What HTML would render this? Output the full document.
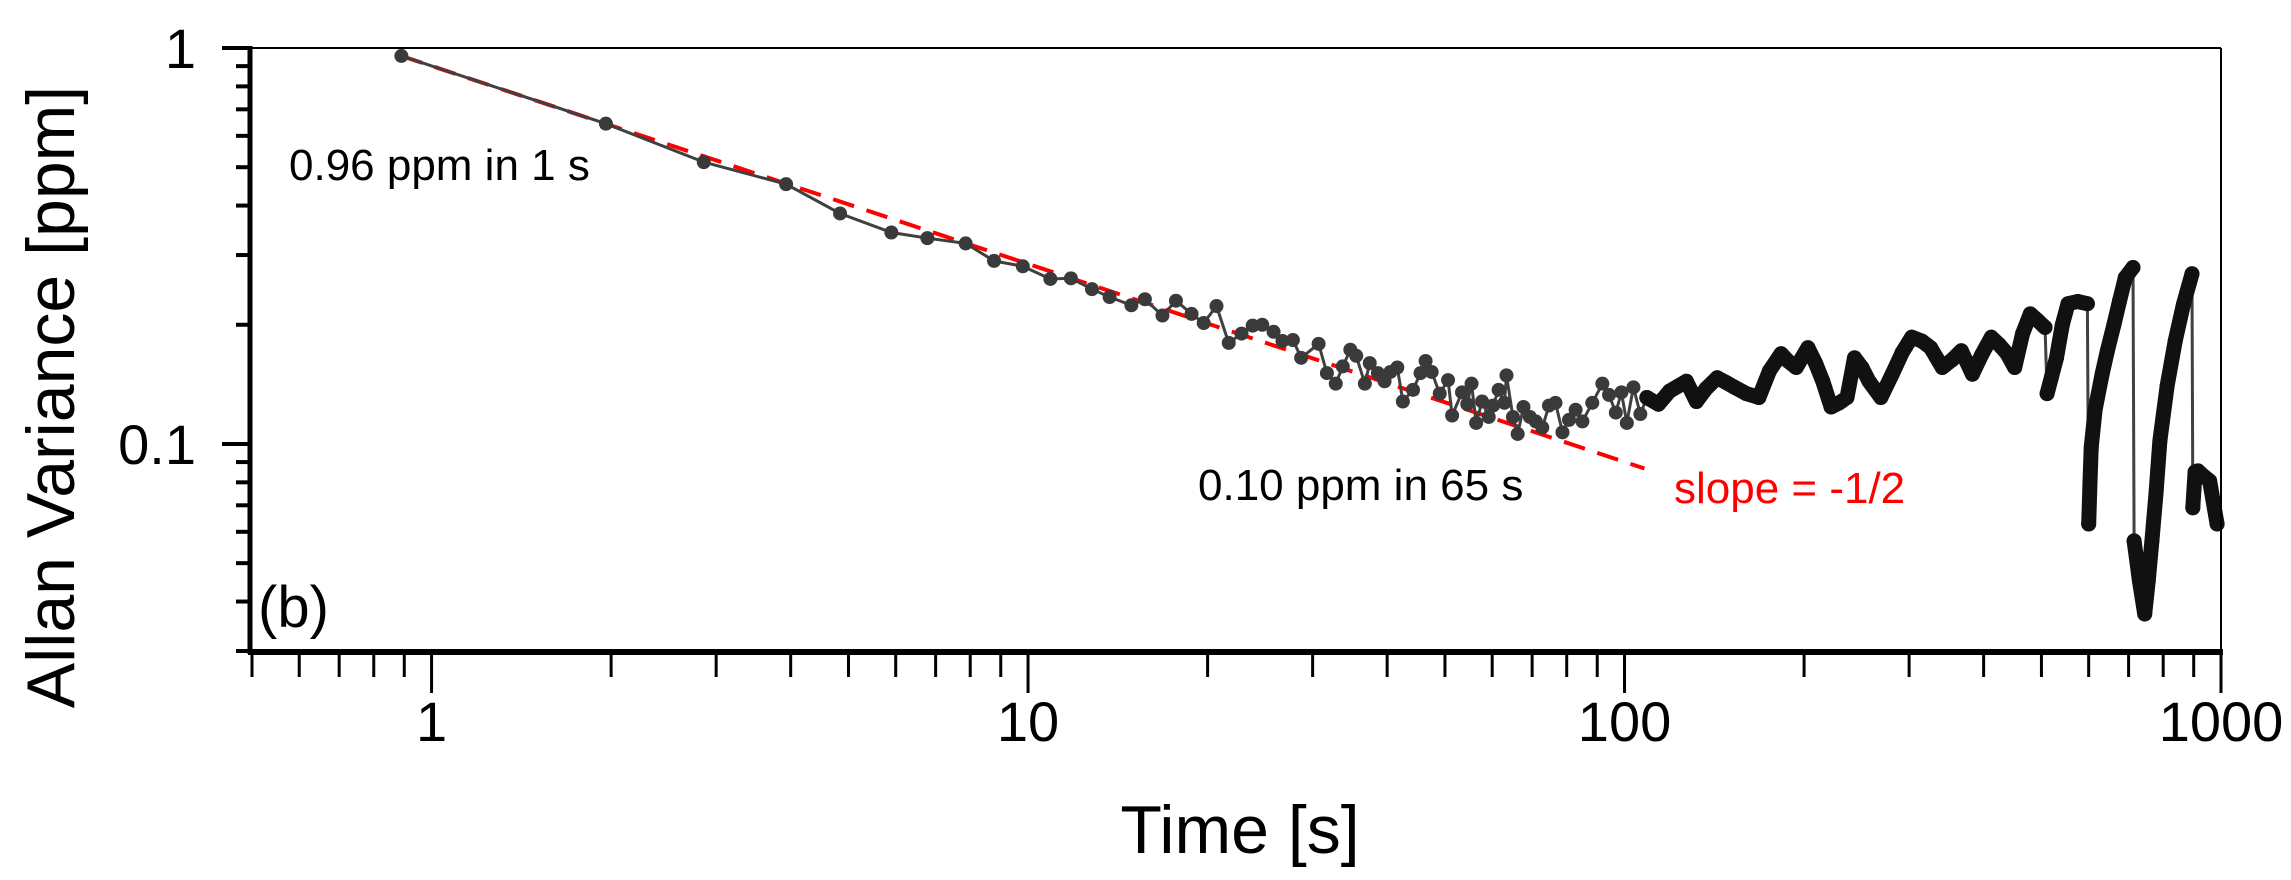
<!DOCTYPE html>
<html><head><meta charset="utf-8"><style>
html,body{margin:0;padding:0;background:#fff;}
svg{display:block;font-family:"Liberation Sans",Arial,sans-serif;}
</style></head><body>
<svg id="chart" width="2291" height="880" viewBox="0 0 2291 880" xmlns="http://www.w3.org/2000/svg">
<g id="marks"></g>
<g id="axes"></g>
<text x="0" y="0" transform="translate(74,397) rotate(-90)" text-anchor="middle" font-size="68">Allan Variance [ppm]</text>
<text x="1240" y="853" text-anchor="middle" font-size="68">Time [s]</text>
<text x="289" y="180" font-size="44">0.96 ppm in 1 s</text>
<text x="1198" y="500" font-size="44">0.10 ppm in 65 s</text>
<text x="1674" y="503" font-size="44" fill="#ff0000">slope = -1/2</text>
<text x="258" y="627" font-size="58">(b)</text>
</svg>
<script>
// ---- data ----
const sparseTau = [0.89,1.96,2.86,3.93,4.84,5.9,6.78,7.86,8.77,9.8,10.9,11.8,12.8,13.7,14.9,15.7,16.8,17.7,18.8,19.7,20.7,21.7,22.8,23.8,24.7,25.8,26.7,27.8,28.7,30.7,31.7,32.8,33.7,34.7,35.5,36.7,37.4,38.6,39.6,40.5,41.6,42.5,44.2,45.5,46.4,47.5,49.0,50.6,51.4,53.4,54.5,55.4,56.4,57.7,59.2,60.2,61.5,62.9,63.4,65.0,66.2,67.7,69.4,71.0,72.8,74.7,76.6,78.7,80.7,82.8,85.0,88.3,91.8,94.2,96.7,98.8,100.9,103.5,106.3];
const sparseVal = [0.955,0.644,0.515,0.453,0.382,0.342,0.331,0.321,0.290,0.281,0.261,0.262,0.246,0.235,0.224,0.232,0.211,0.230,0.213,0.202,0.223,0.180,0.190,0.199,0.200,0.192,0.182,0.183,0.165,0.179,0.151,0.142,0.157,0.173,0.167,0.142,0.160,0.151,0.144,0.152,0.156,0.128,0.137,0.151,0.162,0.152,0.134,0.145,0.118,0.135,0.126,0.142,0.113,0.128,0.117,0.125,0.137,0.127,0.149,0.117,0.106,0.124,0.117,0.114,0.110,0.125,0.127,0.107,0.115,0.122,0.114,0.127,0.142,0.133,0.120,0.135,0.113,0.139,0.119];
const denseTauA = [109,114,119,123,127,132,137,143,148,153,160,168,175,183,188,194,203,209,215,222,229,236,243,250,257,269,281,292,303,315,326,341,354,367,383,397,412,425,438,451,465,479,493,507];
const denseValA = [0.131,0.126,0.136,0.140,0.144,0.128,0.138,0.147,0.143,0.139,0.134,0.131,0.153,0.169,0.162,0.156,0.175,0.160,0.144,0.124,0.127,0.131,0.165,0.156,0.144,0.131,0.150,0.170,0.186,0.182,0.175,0.156,0.163,0.172,0.150,0.168,0.186,0.178,0.169,0.156,0.190,0.213,0.205,0.197];
const denseTauB = [511,520,530,542,554,575,597];
const denseValB = [0.134,0.148,0.165,0.200,0.226,0.229,0.226];
const denseTauC = [600,603,606,615,632,645,662,676,691,712];
const denseValC = [0.0628,0.080,0.098,0.122,0.150,0.172,0.201,0.230,0.263,0.279];
const denseTauD = [715,730,745,755,766,778,790,812,838,865,894];
const denseValD = [0.0569,0.045,0.0372,0.045,0.0569,0.075,0.102,0.140,0.182,0.225,0.269];
const denseTauE = [897,905,915,935,957,985];
const denseValE = [0.069,0.085,0.0855,0.083,0.0807,0.0628];
const fitStart = [0.89, 0.955];
const fitEndTau = 108;
const fitSlope = -0.5;
const xTickVals = [1,10,100,1000];
const xTickLabels = ["1","10","100","1000"];
const yTickVals = [1,0.1];
const yTickLabels = ["1","0.1"];

// ---- scales ----
const L=252,R=2221,T=48,B=651;
const xMin=0.5,xMax=1000,yMin=0.03,yMax=1;
function X(t){return L+(Math.log10(t)-Math.log10(xMin))/(Math.log10(xMax)-Math.log10(xMin))*(R-L);}
function Y(v){return B-(Math.log10(v)-Math.log10(yMin))/(Math.log10(yMax)-Math.log10(yMin))*(B-T);}
const NS="http://www.w3.org/2000/svg";
const marks=document.getElementById('marks');
const axes=document.getElementById('axes');
function mk(tag,parent){const e=document.createElementNS(NS,tag);parent.appendChild(e);return e;}
function pts(ts,vs){return ts.map((t,i)=>X(t).toFixed(1)+','+Y(vs[i]).toFixed(1)).join(' ');}

// fit line
const fit=mk('line',marks);


fit.setAttribute('x1',X(fitStart[0]));fit.setAttribute('y1',Y(fitStart[1]));
fit.setAttribute('x2',X(fitEndTau));fit.setAttribute('y2',Y(fitStart[1]*Math.pow(fitEndTau/fitStart[0],fitSlope)));
fit.setAttribute('stroke','#ff0000');fit.setAttribute('stroke-width','4');fit.setAttribute('stroke-dasharray','22 13');

// sparse series
const sl=mk('polyline',marks);


sl.setAttribute('points',pts(sparseTau,sparseVal));
sl.setAttribute('fill','none');sl.setAttribute('stroke','#404040');sl.setAttribute('stroke-width','3');

// dense segments
const segs=[[denseTauA,denseValA],[denseTauB,denseValB],[denseTauC,denseValC],[denseTauD,denseValD],[denseTauE,denseValE]];
let prevT=sparseTau[sparseTau.length-1],prevV=sparseVal[sparseVal.length-1];
segs.forEach(s=>{
  const c=mk('line',marks);
  
  
  c.setAttribute('x1',X(prevT));c.setAttribute('y1',Y(prevV));c.setAttribute('x2',X(s[0][0]));c.setAttribute('y2',Y(s[1][0]));
  c.setAttribute('stroke','#404040');c.setAttribute('stroke-width','3');
  prevT=s[0][s[0].length-1];prevV=s[1][s[1].length-1];
});
segs.forEach(s=>{
  const p=mk('polyline',marks);
  
  
  p.setAttribute('points',pts(s[0],s[1]));
  p.setAttribute('fill','none');p.setAttribute('stroke','#111');p.setAttribute('stroke-width','15');
  p.setAttribute('stroke-linejoin','round');p.setAttribute('stroke-linecap','round');
  s[0].forEach((t,i)=>{
    const c=mk('circle',marks);
    
    
    c.setAttribute('cx',X(t));c.setAttribute('cy',Y(s[1][i]));c.setAttribute('r','7.5');c.setAttribute('fill','#111');
  });
});
// markers
sparseTau.forEach((t,i)=>{
  const c=mk('circle',marks);
  
  
  c.setAttribute('cx',X(t));c.setAttribute('cy',Y(sparseVal[i]));c.setAttribute('r','7');c.setAttribute('fill','#3a3a3a');
});

// axes frame
function line(x1,y1,x2,y2,w,name){const l=mk('line',axes);
  
  
  l.setAttribute('x1',x1);l.setAttribute('y1',y1);l.setAttribute('x2',x2);l.setAttribute('y2',y2);l.setAttribute('stroke','#000');l.setAttribute('stroke-width',w);return l;}
line(L,T,R,T,2,'top-frame');
line(R,T,R,B,2,'right-frame');
line(L-2,T-2,L-2,B+3,5,'y-axis-line');
line(L-4,B+1,R+2,B+1,6,'x-axis-line');
for(let d=-1;d<=3;d++){for(let m=1;m<=9;m++){const t=m*Math.pow(10,d);if(t<xMin-1e-9||t>xMax+1e-9)continue;
  const major=(m===1);const x=X(t);
  line(x,B,x,major?B+42:B+26,3,major?'x-major-tick':'x-minor-tick');}}
xTickVals.forEach((t,i)=>{const e=mk('text',axes);
  
  
  e.setAttribute('x',X(t));e.setAttribute('y','741');e.setAttribute('text-anchor','middle');e.setAttribute('font-size','56');e.textContent=xTickLabels[i];});
for(let d=-2;d<=0;d++){for(let m=1;m<=9;m++){const v=m*Math.pow(10,d);if(v<yMin-1e-9||v>yMax+1e-9)continue;
  const major=(m===1);const y=Y(v);
  line(major?222:236,y,L,y,4,major?'y-major-tick':'y-minor-tick');}}
yTickVals.forEach((v,i)=>{const e=mk('text',axes);
  
  
  e.setAttribute('x','196');e.setAttribute('y',Y(v)+20);e.setAttribute('text-anchor','end');e.setAttribute('font-size','56');e.textContent=yTickLabels[i];});
</script>
</body></html>
